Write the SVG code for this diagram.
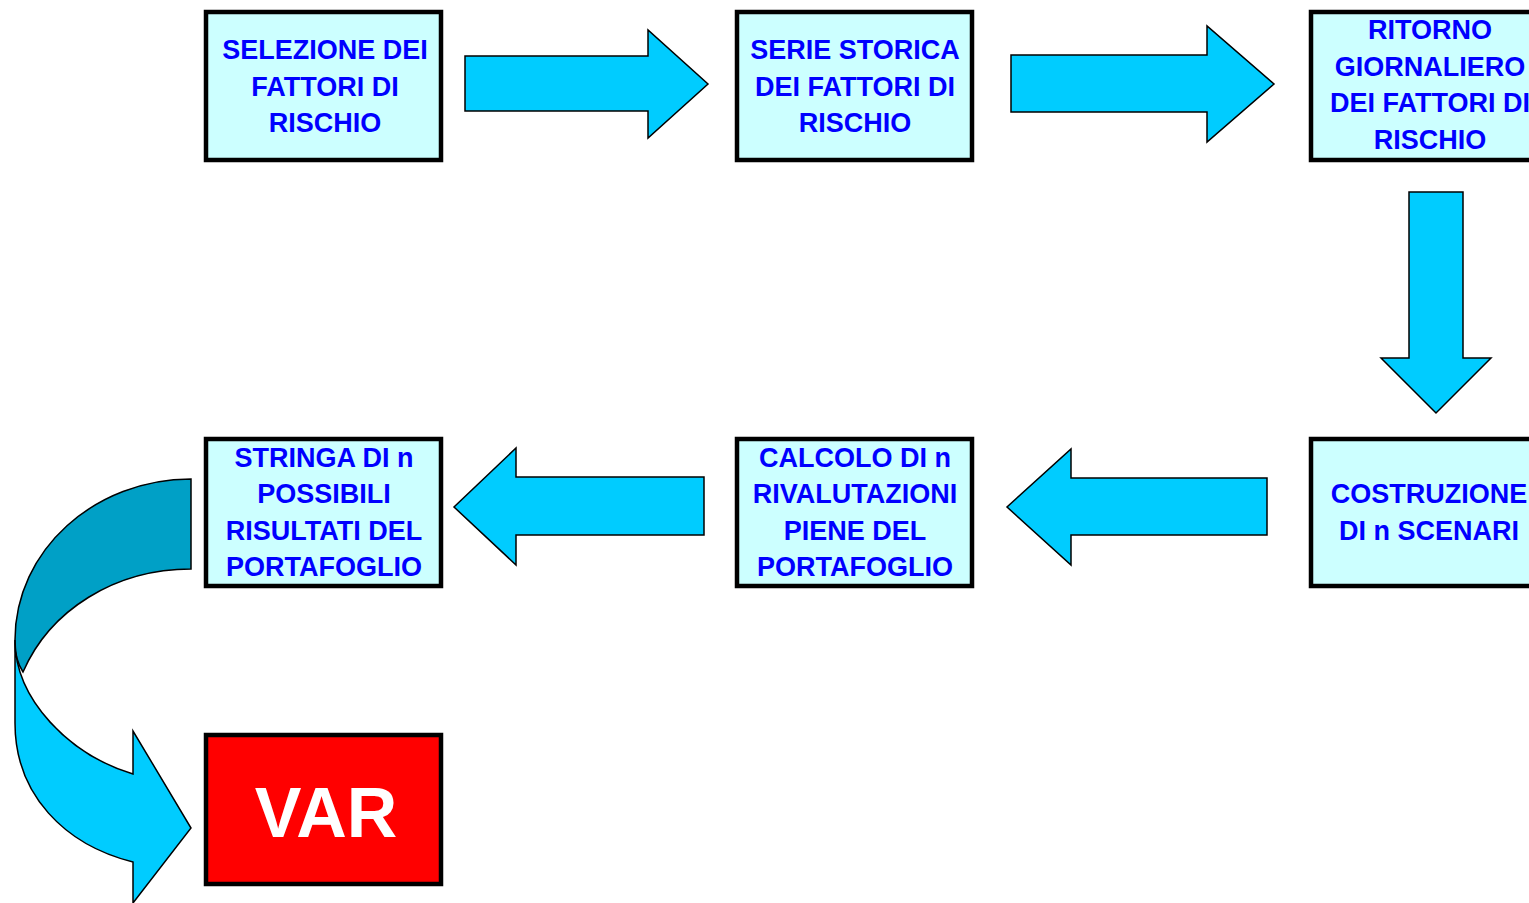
<svg xmlns="http://www.w3.org/2000/svg" width="1529" height="903" viewBox="0 0 1529 903">
<style>
.box{fill:#CCFFFF;stroke:#000;stroke-width:4.5}
.t{font-family:"Liberation Sans",Arial,sans-serif;font-weight:bold;font-size:27px;fill:#0000FF;text-anchor:middle}
.arr{fill:#00CCFF;stroke:#000;stroke-width:1.5;stroke-linejoin:miter}
.dark{fill:#00A0C6;stroke:#000;stroke-width:1.5}
.var{fill:#FF0000;stroke:#000;stroke-width:4.5}
.vt{font-family:"Liberation Sans",Arial,sans-serif;font-weight:bold;font-size:70px;fill:#FFFFFF;text-anchor:middle}
</style>
<rect width="1529" height="903" fill="#FFFFFF"/>
<g id="connectors">
<path class="arr" d="M465,56 L648,56 L648,30 L708,84 L648,138 L648,111 L465,111 Z"/>
<path class="arr" d="M1011,55 L1207,55 L1207,26 L1274,84 L1207,142 L1207,112 L1011,112 Z"/>
<path class="arr" d="M1409,192 L1463,192 L1463,358 L1491,358 L1436,413 L1381,358 L1409,358 Z"/>
<path class="arr" d="M1267,478 L1071,478 L1071,449 L1007,507 L1071,565 L1071,535 L1267,535 Z"/>
<path class="arr" d="M704,477 L516,477 L516,448 L454,507 L516,565 L516,535 L704,535 Z"/>
<path class="dark" d="M191,479 C95,479 15,550 15,640 L15,644 C15,655 18,664 23,672 C50,610 115,569 191,569 Z"/>
<path class="arr" d="M15,640 C15,700 70,755 133,774 L133,731 L191,828 L133,903 L133,862 C65,845 15,795 15,723 Z"/>
</g>
<g id="n1">
<rect class="box" x="206" y="12" width="235" height="148"/>
<text class="t" x="325" y="59">SELEZIONE DEI</text>
<text class="t" x="325" y="95.5">FATTORI DI</text>
<text class="t" x="325" y="132">RISCHIO</text>
</g>
<g id="n2">
<rect class="box" x="737" y="12" width="235" height="148"/>
<text class="t" x="855" y="59">SERIE STORICA</text>
<text class="t" x="855" y="95.5">DEI FATTORI DI</text>
<text class="t" x="855" y="132">RISCHIO</text>
</g>
<g id="n3">
<rect class="box" x="1311" y="12" width="235" height="148"/>
<text class="t" x="1430" y="39">RITORNO</text>
<text class="t" x="1430" y="76">GIORNALIERO</text>
<text class="t" x="1430" y="112">DEI FATTORI DI</text>
<text class="t" x="1430" y="149">RISCHIO</text>
</g>
<g id="n4">
<rect class="box" x="1311" y="439" width="235" height="147"/>
<text class="t" x="1429" y="503">COSTRUZIONE</text>
<text class="t" x="1429" y="540">DI n SCENARI</text>
</g>
<g id="n5">
<rect class="box" x="737" y="439" width="235" height="147"/>
<text class="t" x="855" y="467">CALCOLO DI n</text>
<text class="t" x="855" y="503">RIVALUTAZIONI</text>
<text class="t" x="855" y="540">PIENE DEL</text>
<text class="t" x="855" y="576">PORTAFOGLIO</text>
</g>
<g id="n6">
<rect class="box" x="206" y="439" width="235" height="147"/>
<text class="t" x="324" y="467">STRINGA DI n</text>
<text class="t" x="324" y="503">POSSIBILI</text>
<text class="t" x="324" y="540">RISULTATI DEL</text>
<text class="t" x="324" y="576">PORTAFOGLIO</text>
</g>
<g id="n7">
<rect class="var" x="206" y="735" width="235" height="149"/>
<text class="vt" x="326" y="837">VAR</text>
</g>
</svg>
